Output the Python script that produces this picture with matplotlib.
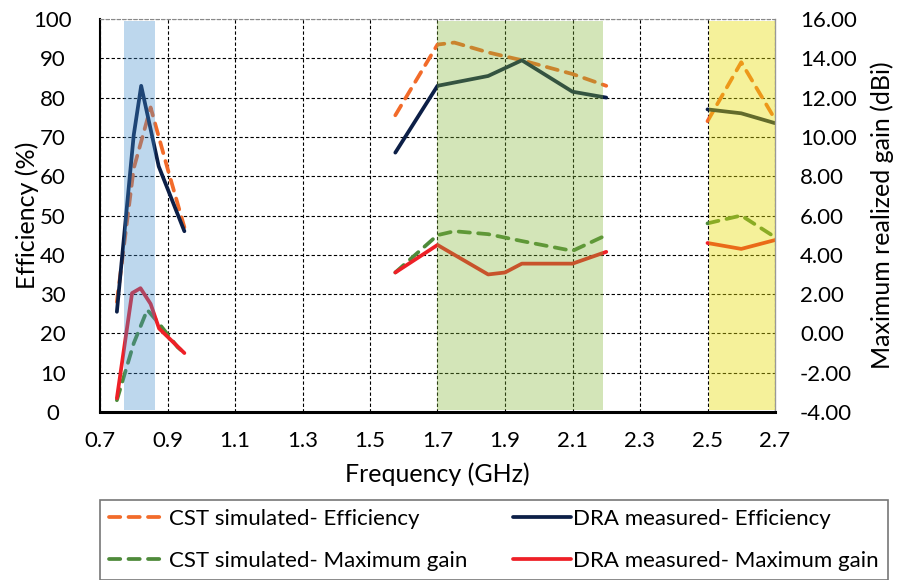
import matplotlib
matplotlib.use("Agg")
import matplotlib.pyplot as plt
import numpy as np

plt.rcParams['font.family'] = ['Lato', 'DejaVu Sans']

# ---- data ----
# CST simulated efficiency (%)
cst_eff_f = [0.75, 0.80, 0.85, 0.90, 0.95, None,
             1.575, 1.70, 1.75, 1.85, 1.95, 2.10, 2.20, None,
             2.50, 2.60, 2.70]
cst_eff = [28, 62, 77.5, 62, 47, None,
           75.5, 93.5, 94, 91.5, 89.5, 86, 83, None,
           74, 89, 74.5]
# DRA measured efficiency (%)
dra_eff_f = [0.75, 0.80, 0.822, 0.874, 0.95, None,
             1.575, 1.70, 1.85, 1.95, 2.10, 2.20, None,
             2.50, 2.60, 2.70]
dra_eff = [25.5, 70.5, 83, 62.5, 46, None,
           66, 83, 85.5, 89.5, 81.5, 80, None,
           77, 76, 73.5]
# CST simulated maximum gain (dBi)
cst_gain_f = [0.75, 0.80, 0.84, 0.875, 0.93, 0.95, None,
              1.575, 1.70, 1.75, 1.85, 1.95, 2.10, 2.20, None,
              2.50, 2.60, 2.70]
cst_gain = [-3.4, -0.5, 1.2, 0.5, -0.7, -1.0, None,
            3.1, 5.0, 5.2, 5.05, 4.7, 4.2, 5.0, None,
            5.6, 6.0, 4.9]
# DRA measured maximum gain (dBi)
dra_gain_f = [0.75, 0.795, 0.82, 0.85, 0.875, 0.95, None,
              1.575, 1.70, 1.85, 1.90, 1.95, 2.10, 2.20, None,
              2.50, 2.60, 2.70]
dra_gain = [-3.3, 2.05, 2.3, 1.5, 0.25, -1.0, None,
            3.1, 4.5, 3.0, 3.1, 3.55, 3.55, 4.15, None,
            4.6, 4.3, 4.75]

bands = [(0.772, 0.864), (1.70, 2.19), (2.505, 2.70)]
band_colors = ['#428dce', '#81b534', '#e6de03']
band_alpha = [0.35, 0.35, 0.40]

x_ticks = np.round(np.arange(0.7, 2.71, 0.2), 1)
eff_ticks = np.arange(0, 101, 10)
gain_ticks = np.arange(-4, 16.1, 2)


def arr(v):
    return np.array([np.nan if a is None else a for a in v], dtype=float)


fig = plt.figure(figsize=(9.04, 5.8), dpi=100)
ax1 = fig.add_axes([100 / 904, 1 - 412 / 580, 675 / 904, 393 / 580])
ax2 = ax1.twinx()

l1, = ax1.plot(arr(cst_eff_f), arr(cst_eff), color='#f26b2a', lw=2.7,
               ls=(0, (3, 2.2)), dash_capstyle='round',
               label='CST simulated- Efficiency')
l2, = ax1.plot(arr(dra_eff_f), arr(dra_eff), color='#0c1f47', lw=2.7,
               solid_capstyle='round', label='DRA measured- Efficiency')
l3, = ax2.plot(arr(cst_gain_f), arr(cst_gain), color='#4e8a3a', lw=2.7,
               ls=(0, (3, 2.2)), dash_capstyle='round',
               label='CST simulated- Maximum gain')
l4, = ax2.plot(arr(dra_gain_f), arr(dra_gain), color='#ee2027', lw=2.7,
               solid_capstyle='round', label='DRA measured- Maximum gain')

# frequency bands drawn over the curves
for (a, b), c, al in zip(bands, band_colors, band_alpha):
    ax2.axvspan(a, b, ymin=0.005, ymax=0.995, color=c, alpha=al, lw=0,
                zorder=5)

ax1.set_xlim(0.7, 2.7)
ax1.set_ylim(0, 100)
ax2.set_ylim(-4, 16)
ax1.set_xticks(x_ticks)
ax1.set_xticklabels([f'{v:.1f}' for v in x_ticks])
ax1.set_yticks(eff_ticks)
ax2.set_yticks(gain_ticks)
ax2.set_yticklabels([f'{v:.2f}' for v in gain_ticks])

ax1.grid(True, color='black', ls=(0, (3, 2)), lw=0.8)
ax1.tick_params(axis='x', length=0, labelsize=16, pad=14)
ax1.tick_params(axis='y', length=0, labelsize=16, pad=34)
ax2.tick_params(length=0, labelsize=16, pad=18)
for t in ax1.get_yticklabels():
    t.set_horizontalalignment('center')

for s in ['top', 'right', 'left', 'bottom']:
    ax1.spines[s].set_visible(False)
    ax2.spines[s].set_visible(False)
ax2.spines['bottom'].set_visible(True)
ax2.spines['bottom'].set_linewidth(2.2)
ax2.spines['bottom'].set_color('black')
ax2.spines['left'].set_visible(True)
ax2.spines['left'].set_linewidth(1.5)
ax2.spines['right'].set_visible(True)
ax2.spines['right'].set_color('#999999')
ax2.spines['right'].set_linewidth(1)
ax2.spines['top'].set_visible(True)
ax2.spines['top'].set_color('#888888')
ax2.spines['top'].set_linestyle((0, (3, 2)))

ax1.set_xlabel('Frequency (GHz)', fontsize=18, labelpad=8)
ax1.set_ylabel('Efficiency (%)', fontsize=18, labelpad=-4)
ax2.set_ylabel('Maximum realized gain (dBi)', fontsize=18, labelpad=10)

leg = fig.legend(handles=[l1, l3, l2, l4], ncol=2, loc='upper left',
                 bbox_to_anchor=(100 / 904, 1 - 500 / 580, 788 / 904, 0),
                 borderaxespad=0, mode='expand', fontsize=16,
                 labelspacing=1.0, handlelength=2.6, handletextpad=0.1,
                 borderpad=0.4, fancybox=False, frameon=True)
leg.get_frame().set_edgecolor('#555555')
leg.get_frame().set_linewidth(1.2)

fig.savefig('out.png', dpi=100)
